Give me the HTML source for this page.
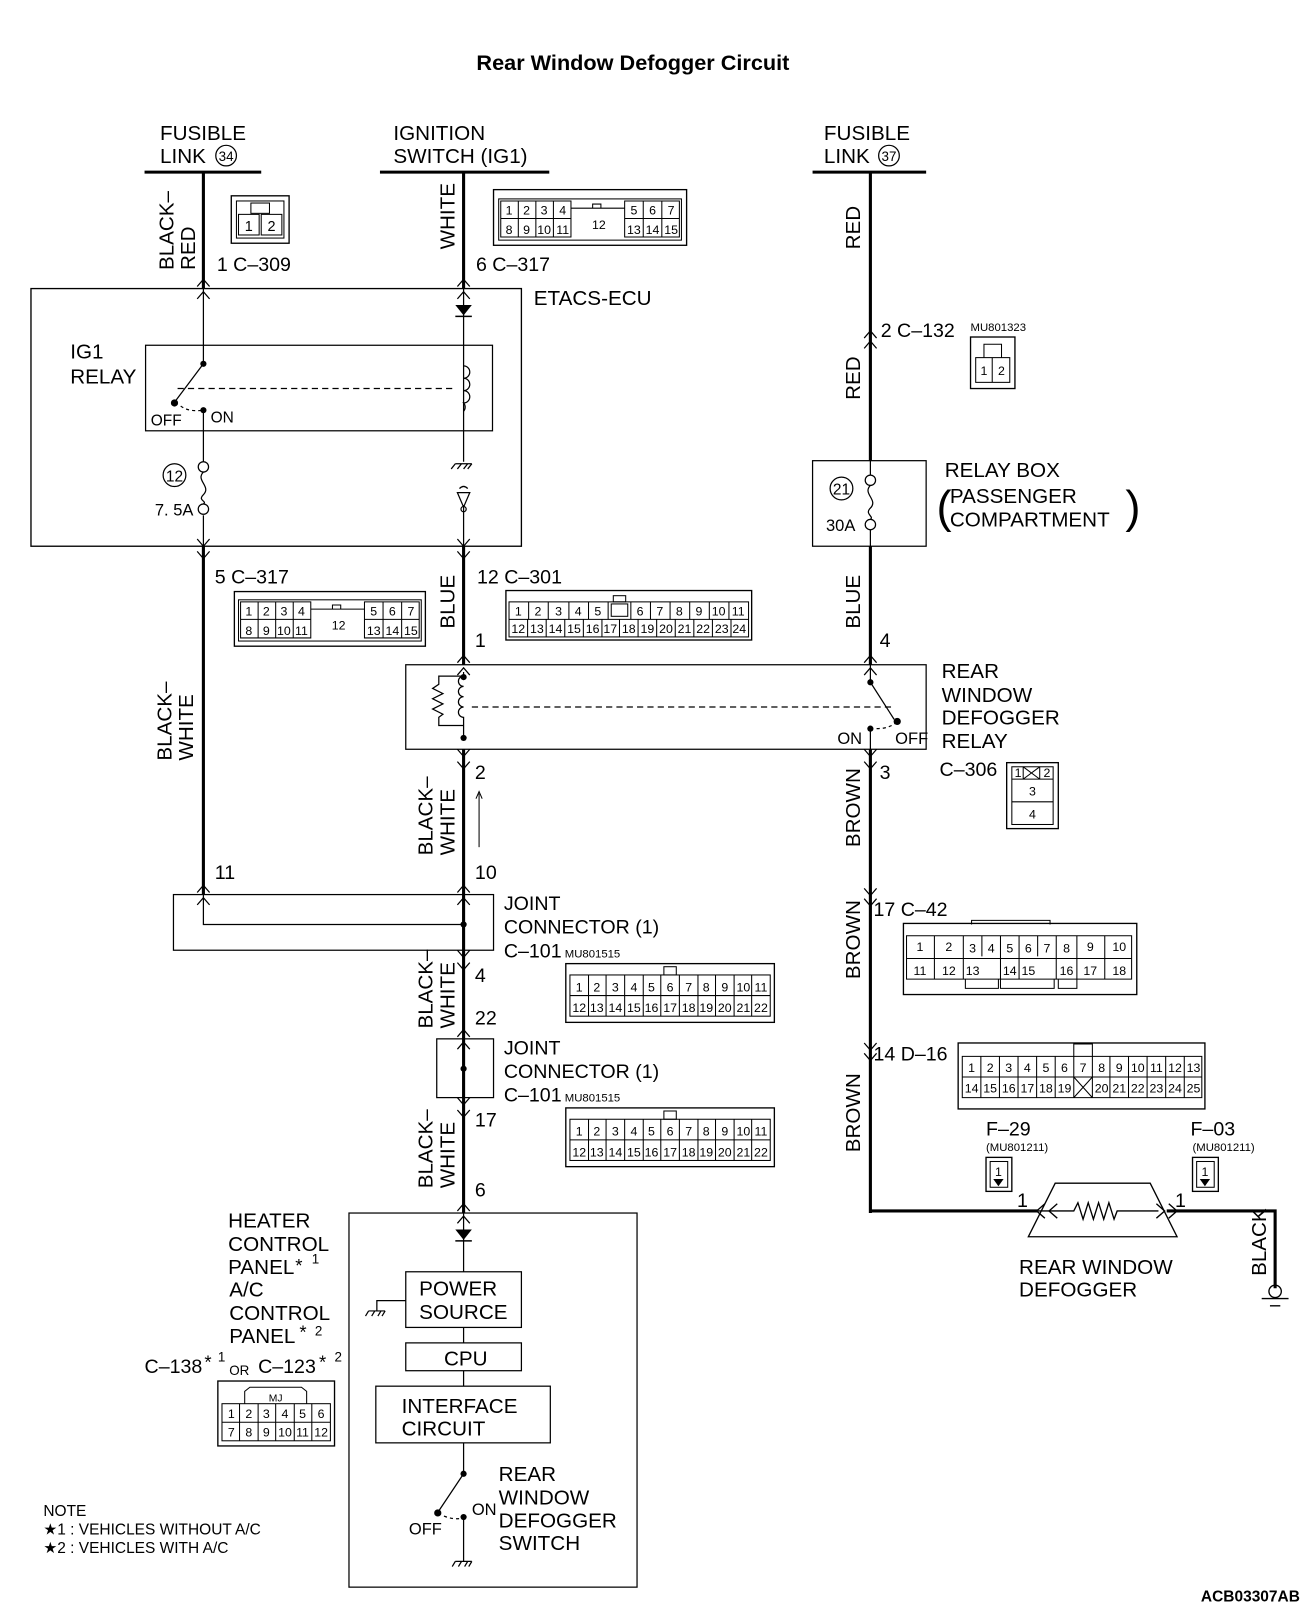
<!DOCTYPE html>
<html><head><meta charset="utf-8"><style>
html,body{margin:0;padding:0;background:#fff}
svg{display:block}
text{font-family:"Liberation Sans",Arial,sans-serif;fill:#000}
.l{font-size:20px}
.n{font-size:19px;font-family:"Liberation Sans Narrow","Liberation Sans",sans-serif}
.c{font-size:12px;font-family:"Liberation Sans Narrow","Liberation Sans",sans-serif;text-anchor:middle}
.s{font-size:11px;font-family:"Liberation Sans Narrow","Liberation Sans",sans-serif}
</style></head><body>
<svg width="1303" height="1616" viewBox="0 0 1262 1568" preserveAspectRatio="none" xmlns="http://www.w3.org/2000/svg">
<text x="613" y="68" style="font-size:21px;font-weight:bold" text-anchor="middle">Rear Window Defogger Circuit</text>

<text class="l" x="155" y="136">FUSIBLE</text>
<text class="l" x="155" y="158">LINK</text>
<circle cx="219" cy="151" r="10" fill="none" stroke="#000" stroke-width="1.2"/>
<text x="219" y="156" style="font-size:13px" text-anchor="middle">34</text>
<line x1="140" y1="167" x2="253" y2="167" stroke="#000" stroke-width="3"/>
<line x1="197" y1="167" x2="197" y2="280" stroke="#000" stroke-width="3"/>
<text class="l" transform="translate(168,262) rotate(-90)">BLACK–</text>
<text class="l" transform="translate(189,262) rotate(-90)">RED</text>
<rect x="224" y="190" width="56" height="46" fill="none" stroke="#000" stroke-width="1.3"/>
<rect x="229" y="195" width="46" height="36" fill="none" stroke="#000" stroke-width="1"/>
<rect x="243" y="197" width="18" height="10" fill="none" stroke="#000" stroke-width="1"/>
<rect x="231" y="208" width="20" height="20" fill="none" stroke="#000" stroke-width="1"/>
<rect x="253" y="208" width="20" height="20" fill="none" stroke="#000" stroke-width="1"/>
<text class="c" x="241" y="224" style="font-size:14px">1</text>
<text class="c" x="263" y="224" style="font-size:14px">2</text>
<text class="n" x="210" y="263">1 C–309</text>

<text class="l" x="381" y="136">IGNITION</text>
<text class="l" x="381" y="158">SWITCH (IG1)</text>
<line x1="368" y1="167" x2="532" y2="167" stroke="#000" stroke-width="3"/>
<line x1="449" y1="167" x2="449" y2="280" stroke="#000" stroke-width="3"/>
<text class="l" transform="translate(440,242) rotate(-90)">WHITE</text>
<g fill="none" stroke="#000" stroke-width="1">
<rect x="478" y="184" width="187" height="54" stroke-width="1.3"/>
<rect x="483" y="193" width="177" height="40"/>
<path d="M485 195h68v35h-68zM502 195v35M519 195v35M536 195v35M485 212h68M605 195h53v35h-53zM623 195v35M641 195v35M605 212h53M553 202h52M574 198h8v4h-8z"/>
</g>
<g class="c"><text x="493" y="208">1</text><text x="510" y="208">2</text><text x="527" y="208">3</text><text x="545" y="208">4</text>
<text x="493" y="227">8</text><text x="510" y="227">9</text><text x="527" y="227">10</text><text x="545" y="227">11</text>
<text x="580" y="222">12</text>
<text x="614" y="208">5</text><text x="632" y="208">6</text><text x="650" y="208">7</text>
<text x="614" y="227">13</text><text x="632" y="227">14</text><text x="650" y="227">15</text></g>
<text class="n" x="461" y="263">6 C–317</text>

<rect x="30" y="280" width="475" height="250" fill="none" stroke="#000" stroke-width="1.3"/>
<text class="l" x="517" y="296">ETACS-ECU</text>
<g fill="none" stroke="#000" stroke-width="1.2">
<path d="M191 278l6-7 6 7M191 290l6-7 6 7"/>
<path d="M443 278l6-7 6 7M443 290l6-7 6 7"/>
<path d="M191 523l6 7 6-7M191 535l6 7 6-7"/>
<path d="M443 523l6 7 6-7M443 535l6 7 6-7"/>
<line x1="197" y1="280" x2="197" y2="352"/>
<line x1="197" y1="398" x2="197" y2="448"/>
<line x1="197" y1="500" x2="197" y2="530"/>
<line x1="449" y1="280" x2="449" y2="448"/>
<line x1="449" y1="490" x2="449" y2="530"/>
<rect x="141" y="335" width="336" height="83"/>
<line x1="197" y1="353" x2="170" y2="389"/>
<line x1="172" y1="377" x2="440" y2="377" stroke-dasharray="6,4"/>
<path d="M175 394 q8 6 22 4" stroke-dasharray="3,3"/>
<path d="M449 355 a6 6 0 0 1 0 12 a6 6 0 0 1 0 12 a6 6 0 0 1 0 12 a6 6 0 0 1 0 8" />
<circle cx="197" cy="453" r="5"/><circle cx="197" cy="494" r="5"/>
<path d="M197 458 c-8 8 8 14 0 22 c-6 6 4 6 0 9"/>
<path d="M441 450h16M441 450l-4 5M447 450l-4 5M453 450l-4 5M457 450l-4 5"/>
<path d="M443 478h12l-6 14z M445 474q4-4 8 0"/>
<circle cx="449" cy="494" r="2.5"/>
</g>
<polygon points="441,296 457,296 449,306" fill="#000"/>
<line x1="441" y1="307" x2="457" y2="307" stroke="#000" stroke-width="1.5"/>
<circle cx="197" cy="353" r="3" fill="#000"/><circle cx="169" cy="391" r="3.5" fill="#000"/><circle cx="197" cy="398" r="3" fill="#000"/>
<text class="l" x="68" y="348">IG1</text>
<text class="l" x="68" y="372">RELAY</text>
<text class="n" x="146" y="413" style="font-size:15px">OFF</text>
<text class="n" x="204" y="410" style="font-size:15px">ON</text>
<circle cx="169" cy="461" r="11" fill="none" stroke="#000" stroke-width="1.2"/>
<text x="169" y="467" style="font-size:15px" text-anchor="middle">12</text>
<text class="n" x="150" y="500" style="font-size:16px">7. 5A</text>

<line x1="197" y1="530" x2="197" y2="868" stroke="#000" stroke-width="3"/>
<line x1="449" y1="530" x2="449" y2="645" stroke="#000" stroke-width="3"/>
<text class="n" x="208" y="566">5 C–317</text>
<g fill="none" stroke="#000" stroke-width="1">
<rect x="227" y="574" width="185" height="53" stroke-width="1.3"/>
<rect x="231" y="582" width="177" height="40"/>
<path d="M233 584h68v35h-68zM250 584v35M267 584v35M284 584v35M233 601h68M353 584h53v35h-53zM371 584v35M389 584v35M353 601h53M301 591h52M322 587h8v4h-8z"/>
</g>
<g class="c"><text x="241" y="597">1</text><text x="258" y="597">2</text><text x="275" y="597">3</text><text x="292" y="597">4</text>
<text x="241" y="616">8</text><text x="258" y="616">9</text><text x="275" y="616">10</text><text x="292" y="616">11</text>
<text x="328" y="611">12</text>
<text x="362" y="597">5</text><text x="380" y="597">6</text><text x="398" y="597">7</text>
<text x="362" y="616">13</text><text x="380" y="616">14</text><text x="398" y="616">15</text></g>
<text class="l" transform="translate(166,738) rotate(-90)">BLACK–</text>
<text class="l" transform="translate(187,738) rotate(-90)">WHITE</text>

<text class="n" x="462" y="566">12 C–301</text>
<text class="l" transform="translate(440,610) rotate(-90)">BLUE</text>
<g fill="none" stroke="#000" stroke-width="1">
<rect x="490" y="573" width="238" height="48" stroke-width="1.3"/>
<rect x="493" y="584" width="232" height="34"/>
<line x1="493" y1="601" x2="725" y2="601"/>
<path d="M512 584v17M531 584v17M551 584v17M570 584v17M589 584v17M611 584v17M630 584v17M649 584v17M668 584v17M687 584v17M706 584v17"/>
<path d="M511 601v17M529 601v17M547 601v17M565 601v17M583 601v17M600 601v17M618 601v17M636 601v17M654 601v17M672 601v17M690 601v17M708 601v17"/>
<rect x="592" y="586" width="16" height="12"/><rect x="594" y="578" width="12" height="6"/>
</g>
<g class="c"><text x="502" y="597">1</text><text x="521" y="597">2</text><text x="541" y="597">3</text><text x="560" y="597">4</text><text x="579" y="597">5</text><text x="620" y="597">6</text><text x="639" y="597">7</text><text x="658" y="597">8</text><text x="677" y="597">9</text><text x="696" y="597">10</text><text x="715" y="597">11</text>
<text x="502" y="614">12</text><text x="520" y="614">13</text><text x="538" y="614">14</text><text x="556" y="614">15</text><text x="574" y="614">16</text><text x="591" y="614">17</text><text x="609" y="614">18</text><text x="627" y="614">19</text><text x="645" y="614">20</text><text x="663" y="614">21</text><text x="681" y="614">22</text><text x="699" y="614">23</text><text x="716" y="614">24</text></g>
<text class="n" x="460" y="628">1</text>

<g fill="none" stroke="#000" stroke-width="1.2">
<rect x="393" y="645" width="504" height="82"/>
<path d="M443 643l6-7 6 7M443 655l6-7 6 7"/>
<path d="M443 727l6 7 6-7M443 739l6 7 6-7"/>
<path d="M837 643l6-7 6 7M837 655l6-7 6 7"/>
<path d="M837 727l6 7 6-7M837 739l6 7 6-7"/>
<path d="M449 652 v4 a5 5 0 0 0 0 10 a5 5 0 0 0 0 10 a5 5 0 0 0 0 10 a5 5 0 0 0 0 10 v18"/>
<path d="M449 656h-24v8l-6 4 10 5-10 5 10 5-10 5 10 5-4 3v8h24"/>
<line x1="457" y1="686" x2="865" y2="686" stroke-dasharray="6,4"/>
<line x1="843" y1="645" x2="843" y2="662"/>
<line x1="843" y1="662" x2="866" y2="698"/>
<line x1="843" y1="707" x2="843" y2="727"/>
<path d="M849 707 q12 0 19-6" stroke-dasharray="3,3"/>
</g>
<circle cx="449" cy="657" r="3" fill="#000"/><circle cx="449" cy="716" r="3" fill="#000"/>
<circle cx="843" cy="662" r="3" fill="#000"/><circle cx="869" cy="700" r="3.5" fill="#000"/><circle cx="843" cy="707" r="3" fill="#000"/>
<text class="n" x="811" y="722" style="font-size:16px">ON</text>
<text class="n" x="867" y="722" style="font-size:16px">OFF</text>
<text class="l" x="912" y="658">REAR</text>
<text class="l" x="912" y="681">WINDOW</text>
<text class="l" x="912" y="703">DEFOGGER</text>
<text class="l" x="912" y="726">RELAY</text>
<text class="n" x="910" y="753">C–306</text>
<g fill="none" stroke="#000" stroke-width="1">
<rect x="975" y="740" width="50" height="64" stroke-width="1.3"/>
<rect x="980" y="744" width="40" height="56"/>
<path d="M980 756h40M980 778h40M991 744v12M1007 744v12M991 744l16 12M1007 744l-16 12"/>
</g>
<g class="c"><text x="986" y="754">1</text><text x="1014" y="754">2</text><text x="1000" y="772">3</text><text x="1000" y="794">4</text></g>

<line x1="449" y1="727" x2="449" y2="1177" stroke="#000" stroke-width="3"/>
<text class="n" x="460" y="756">2</text>
<text class="l" transform="translate(419,830) rotate(-90)">BLACK–</text>
<text class="l" transform="translate(440,830) rotate(-90)">WHITE</text>
<line x1="464" y1="770" x2="464" y2="822" stroke="#000" stroke-width="1"/>
<path d="M461 775l3-7 3 7" fill="none" stroke="#000" stroke-width="1"/>
<text class="n" x="460" y="853">10</text>
<text class="n" x="208" y="853">11</text>

<g fill="none" stroke="#000" stroke-width="1.2">
<rect x="168" y="868" width="310" height="54"/>
<path d="M191 866l6-7 6 7M443 866l6-7 6 7M443 878l6-7 6 7M191 878l6-7 6 7"/>
<path d="M443 922l6 7 6-7M443 934l6 7 6-7"/>
<path d="M197 868v29h252"/>
</g>
<circle cx="449" cy="897" r="3" fill="#000"/>
<text class="n" x="488" y="883">JOINT</text>
<text class="n" x="488" y="906">CONNECTOR (1)</text>
<text class="n" x="488" y="929">C–101</text><text class="s" x="547" y="929">MU801515</text>
<g fill="none" stroke="#000" stroke-width="1">
<rect x="548" y="935" width="202" height="57" stroke-width="1.3"/>
<rect x="552" y="946" width="194" height="40"/>
<path d="M552 966h194M570 946v40M587 946v40M605 946v40M623 946v40M640 946v40M658 946v40M676 946v40M693 946v40M711 946v40M728 946v40"/>
<rect x="643" y="938" width="12" height="8"/>
</g>
<g class="c"><text x="561" y="962">1</text><text x="578" y="962">2</text><text x="596" y="962">3</text><text x="614" y="962">4</text><text x="631" y="962">5</text><text x="649" y="962">6</text><text x="667" y="962">7</text><text x="684" y="962">8</text><text x="702" y="962">9</text><text x="720" y="962">10</text><text x="737" y="962">11</text>
<text x="561" y="982">12</text><text x="578" y="982">13</text><text x="596" y="982">14</text><text x="614" y="982">15</text><text x="631" y="982">16</text><text x="649" y="982">17</text><text x="667" y="982">18</text><text x="684" y="982">19</text><text x="702" y="982">20</text><text x="720" y="982">21</text><text x="737" y="982">22</text></g>
<text class="n" x="460" y="953">4</text>
<text class="l" transform="translate(419,998) rotate(-90)">BLACK–</text>
<text class="l" transform="translate(440,998) rotate(-90)">WHITE</text>
<text class="n" x="460" y="994">22</text>

<g fill="none" stroke="#000" stroke-width="1.2">
<rect x="423" y="1008" width="55" height="57"/>
<path d="M443 1006l6-7 6 7M443 1018l6-7 6 7"/>
<path d="M443 1065l6 7 6-7M443 1077l6 7 6-7"/>
</g>
<circle cx="449" cy="1037" r="3" fill="#000"/>
<text class="n" x="488" y="1023">JOINT</text>
<text class="n" x="488" y="1046">CONNECTOR (1)</text>
<text class="n" x="488" y="1069">C–101</text><text class="s" x="547" y="1069">MU801515</text>
<g fill="none" stroke="#000" stroke-width="1">
<rect x="548" y="1075" width="202" height="57" stroke-width="1.3"/>
<rect x="552" y="1086" width="194" height="40"/>
<path d="M552 1106h194M570 1086v40M587 1086v40M605 1086v40M623 1086v40M640 1086v40M658 1086v40M676 1086v40M693 1086v40M711 1086v40M728 1086v40"/>
<rect x="643" y="1078" width="12" height="8"/>
</g>
<g class="c"><text x="561" y="1102">1</text><text x="578" y="1102">2</text><text x="596" y="1102">3</text><text x="614" y="1102">4</text><text x="631" y="1102">5</text><text x="649" y="1102">6</text><text x="667" y="1102">7</text><text x="684" y="1102">8</text><text x="702" y="1102">9</text><text x="720" y="1102">10</text><text x="737" y="1102">11</text>
<text x="561" y="1122">12</text><text x="578" y="1122">13</text><text x="596" y="1122">14</text><text x="614" y="1122">15</text><text x="631" y="1122">16</text><text x="649" y="1122">17</text><text x="667" y="1122">18</text><text x="684" y="1122">19</text><text x="702" y="1122">20</text><text x="720" y="1122">21</text><text x="737" y="1122">22</text></g>
<text class="n" x="460" y="1093">17</text>
<text class="l" transform="translate(419,1153) rotate(-90)">BLACK–</text>
<text class="l" transform="translate(440,1153) rotate(-90)">WHITE</text>
<text class="n" x="460" y="1161">6</text>

<g fill="none" stroke="#000" stroke-width="1.2">
<rect x="338" y="1177" width="279" height="363"/>
<path d="M443 1175l6-7 6 7M443 1187l6-7 6 7"/>
<line x1="449" y1="1177" x2="449" y2="1234"/>
<rect x="393" y="1234" width="112" height="54"/>
<line x1="449" y1="1288" x2="449" y2="1303"/>
<rect x="393" y="1303" width="112" height="27"/>
<line x1="449" y1="1330" x2="449" y2="1345"/>
<rect x="364" y="1345" width="169" height="55"/>
<line x1="449" y1="1400" x2="449" y2="1430"/>
<path d="M393 1262h-28v10M357 1272h16M357 1272l-3 5M363 1272l-3 5M369 1272l-3 5M373 1272l-3 5"/>
<line x1="449" y1="1430" x2="425" y2="1466"/>
<path d="M430 1471 q10 4 18 2" stroke-dasharray="3,3"/>
<path d="M449 1473v42M441 1515h16M441 1515l-3 5M447 1515l-3 5M453 1515l-3 5M457 1515l-3 5"/>
</g>
<polygon points="441,1193 457,1193 449,1203" fill="#000"/>
<line x1="441" y1="1204" x2="457" y2="1204" stroke="#000" stroke-width="1.5"/>
<circle cx="449" cy="1430" r="3" fill="#000"/><circle cx="424" cy="1468" r="3.5" fill="#000"/><circle cx="449" cy="1472" r="3" fill="#000"/>
<text class="l" x="406" y="1257">POWER</text>
<text class="l" x="406" y="1280">SOURCE</text>
<text class="l" x="430" y="1325">CPU</text>
<text class="l" x="389" y="1371">INTERFACE</text>
<text class="l" x="389" y="1393">CIRCUIT</text>
<text class="n" x="396" y="1489" style="font-size:16px">OFF</text>
<text class="n" x="457" y="1470" style="font-size:16px">ON</text>
<text class="l" x="483" y="1437">REAR</text>
<text class="l" x="483" y="1460">WINDOW</text>
<text class="l" x="483" y="1482">DEFOGGER</text>
<text class="l" x="483" y="1504">SWITCH</text>

<text class="l" x="221" y="1191">HEATER</text>
<text class="l" x="221" y="1214">CONTROL</text>
<text class="l" x="221" y="1236">PANEL</text><text x="286" y="1234" style="font-size:18px">*</text><text x="302" y="1226" style="font-size:13px">1</text>
<text class="l" x="222" y="1258">A/C</text>
<text class="l" x="222" y="1281">CONTROL</text>
<text class="l" x="222" y="1303">PANEL</text><text x="290" y="1299" style="font-size:18px">*</text><text x="305" y="1296" style="font-size:13px">2</text>
<text class="n" x="140" y="1332">C–138</text><text x="198" y="1328" style="font-size:18px">*</text><text x="211" y="1321" style="font-size:13px">1</text><text x="222" y="1334" style="font-size:13px">OR</text>
<text class="n" x="250" y="1332">C–123</text><text x="309" y="1328" style="font-size:18px">*</text><text x="324" y="1321" style="font-size:13px">2</text>
<g fill="none" stroke="#000" stroke-width="1">
<rect x="211" y="1340" width="113" height="63" stroke-width="1.3"/>
<rect x="215" y="1362" width="105" height="36"/>
<path d="M237 1362v-12l5-4h50l5 4v12M215 1380h105M232 1362v36M250 1362v36M267 1362v36M285 1362v36M302 1362v36"/>
</g>
<text class="c" x="267" y="1360" style="font-size:10px">MJ</text>
<g class="c"><text x="224" y="1376">1</text><text x="241" y="1376">2</text><text x="258" y="1376">3</text><text x="276" y="1376">4</text><text x="293" y="1376">5</text><text x="311" y="1376">6</text>
<text x="224" y="1394">7</text><text x="241" y="1394">8</text><text x="258" y="1394">9</text><text x="276" y="1394">10</text><text x="293" y="1394">11</text><text x="311" y="1394">12</text></g>

<text x="42" y="1471" style="font-size:15px">NOTE</text>
<text x="42" y="1489" style="font-size:15px">★1 : VEHICLES WITHOUT A/C</text>
<text x="42" y="1507" style="font-size:15px">★2 : VEHICLES WITH A/C</text>
<text x="1259" y="1554" style="font-size:15px;font-weight:bold" text-anchor="end">ACB03307AB</text>

<text class="l" x="798" y="136">FUSIBLE</text>
<text class="l" x="798" y="158">LINK</text>
<circle cx="861" cy="151" r="10" fill="none" stroke="#000" stroke-width="1.2"/>
<text x="861" y="156" style="font-size:13px" text-anchor="middle">37</text>
<line x1="787" y1="167" x2="897" y2="167" stroke="#000" stroke-width="3"/>
<line x1="843" y1="167" x2="843" y2="447" stroke="#000" stroke-width="3"/>
<line x1="843" y1="530" x2="843" y2="645" stroke="#000" stroke-width="3"/>
<line x1="843" y1="727" x2="843" y2="1177" stroke="#000" stroke-width="3"/>
<line x1="843" y1="1175" x2="1005" y2="1175" stroke="#000" stroke-width="3"/>
<polyline points="1130,1175 1235,1175 1235,1250" fill="none" stroke="#000" stroke-width="3"/>
<text class="l" transform="translate(833,242) rotate(-90)">RED</text>
<text class="l" transform="translate(833,388) rotate(-90)">RED</text>
<g fill="none" stroke="#000" stroke-width="1.2">
<path d="M837 328l6-7 6 7M837 338l6-7 6 7"/>
<path d="M837 862l6 7 6-7M837 872l6 7 6-7"/>
<path d="M837 1012l6 7 6-7M837 1022l6 7 6-7"/>
</g>
<text class="n" x="853" y="327">2  C–132</text><text class="s" x="940" y="321">MU801323</text>
<g fill="none" stroke="#000" stroke-width="1">
<rect x="940" y="327" width="43" height="50" stroke-width="1.3"/>
<rect x="945" y="347" width="33" height="24"/>
<path d="M953 347v-13h17v13M961 347v24"/>
</g>
<g class="c"><text x="953" y="364">1</text><text x="970" y="364">2</text></g>

<rect x="787" y="447" width="110" height="83" fill="none" stroke="#000" stroke-width="1.2"/>
<g fill="none" stroke="#000" stroke-width="1.2">
<line x1="843" y1="447" x2="843" y2="461"/>
<circle cx="843" cy="466" r="5"/><circle cx="843" cy="509" r="5"/>
<path d="M843 471 c-8 8 8 14 0 22 c-6 6 4 8 0 11"/>
<line x1="843" y1="514" x2="843" y2="530"/>
</g>
<circle cx="815" cy="474" r="11" fill="none" stroke="#000" stroke-width="1.2"/>
<text x="815" y="480" style="font-size:15px" text-anchor="middle">21</text>
<text class="n" x="800" y="515" style="font-size:16px">30A</text>
<text class="l" x="915" y="463">RELAY BOX</text>
<text x="907" y="507" style="font-size:44px">(</text>
<text class="l" x="920" y="488">PASSENGER</text>
<text class="l" x="920" y="511">COMPARTMENT</text>
<text x="1090" y="507" style="font-size:44px">)</text>

<text class="l" transform="translate(833,610) rotate(-90)">BLUE</text>
<text class="n" x="852" y="628">4</text>
<text class="n" x="852" y="756">3</text>
<text class="l" transform="translate(833,822) rotate(-90)">BROWN</text>
<text class="l" transform="translate(833,950) rotate(-90)">BROWN</text>
<text class="l" transform="translate(833,1118) rotate(-90)">BROWN</text>

<text class="n" x="846" y="889">17 C–42</text>
<g fill="none" stroke="#000" stroke-width="1">
<rect x="875" y="896" width="226" height="69" stroke-width="1.3"/>
<path d="M878 908h218v42h-218zM878 930h218M905 908v42M933 908v42M951 908v20M969 908v42M987 908v42M1005 908v20M1023 908v42M1043 908v42M1070 908v42"/>
<path d="M941 897v-4h76v4M935 950v9h32v-9M969 950v9h52v-9M1025 950v9h18v-9"/>
</g>
<g class="c"><text x="891" y="923">1</text><text x="919" y="923">2</text><text x="942" y="924">3</text><text x="960" y="924">4</text><text x="978" y="924">5</text><text x="996" y="924">6</text><text x="1014" y="924">7</text><text x="1033" y="924">8</text><text x="1056" y="923">9</text><text x="1084" y="923">10</text>
<text x="891" y="946">11</text><text x="919" y="946">12</text><text x="942" y="946">13</text><text x="978" y="946">14</text><text x="996" y="946">15</text><text x="1033" y="946">16</text><text x="1056" y="946">17</text><text x="1084" y="946">18</text></g>

<text class="n" x="846" y="1029">14 D–16</text>
<g fill="none" stroke="#000" stroke-width="1">
<rect x="928" y="1012" width="239" height="64" stroke-width="1.3"/>
<path d="M932 1025h232v40h-232zM932 1045h232M950 1025v40M968 1025v40M986 1025v40M1004 1025v40M1022 1025v40M1040 1025v40M1058 1025v40M1075 1025v40M1093 1025v40M1111 1025v40M1129 1025v40M1147 1025v40M1040 1045l18 20M1058 1045l-18 20M1040 1025v-12h18v12"/>
</g>
<g class="c"><text x="941" y="1040">1</text><text x="959" y="1040">2</text><text x="977" y="1040">3</text><text x="995" y="1040">4</text><text x="1013" y="1040">5</text><text x="1031" y="1040">6</text><text x="1049" y="1040">7</text><text x="1067" y="1040">8</text><text x="1084" y="1040">9</text><text x="1102" y="1040">10</text><text x="1120" y="1040">11</text><text x="1138" y="1040">12</text><text x="1156" y="1040">13</text>
<text x="941" y="1060">14</text><text x="959" y="1060">15</text><text x="977" y="1060">16</text><text x="995" y="1060">17</text><text x="1013" y="1060">18</text><text x="1031" y="1060">19</text><text x="1067" y="1060">20</text><text x="1084" y="1060">21</text><text x="1102" y="1060">22</text><text x="1120" y="1060">23</text><text x="1138" y="1060">24</text><text x="1156" y="1060">25</text></g>

<text class="n" x="955" y="1102">F–29</text><text class="s" x="955" y="1117">(MU801211)</text>
<text class="n" x="1153" y="1102">F–03</text><text class="s" x="1155" y="1117">(MU801211)</text>
<g fill="none" stroke="#000" stroke-width="1">
<rect x="955" y="1123" width="25" height="33" stroke-width="1.3"/><rect x="959" y="1127" width="17" height="25"/>
<rect x="1155" y="1123" width="25" height="33" stroke-width="1.3"/><rect x="1159" y="1127" width="17" height="25"/>
</g>
<text class="c" x="967" y="1141">1</text><text class="c" x="1167" y="1141">1</text>
<polygon points="962,1144 972,1144 967,1151" fill="#000"/><polygon points="1162,1144 1172,1144 1167,1151" fill="#000"/>
<text class="n" x="985" y="1171">1</text><text class="n" x="1138" y="1171">1</text>

<g fill="none" stroke="#000" stroke-width="1.3">
<path d="M1022 1148h92l26 52h-144z"/>
<path d="M1005 1175h35l4-8 5 16 5-16 5 16 5-16 5 16 5-16 5 16 3-8h40"/>
<path d="M1012 1168l-8 7 8 7M1024 1168l-8 7 8 7M1120 1168l8 7-8 7M1132 1168l8 7-8 7"/>
<circle cx="1235" cy="1253" r="6"/>
<path d="M1222 1260h26M1230 1267h10"/>
</g>
<text class="l" x="987" y="1236">REAR WINDOW</text>
<text class="l" x="987" y="1258">DEFOGGER</text>
<text class="l" transform="translate(1226,1238) rotate(-90)">BLACK</text>
</svg>
</body></html>
